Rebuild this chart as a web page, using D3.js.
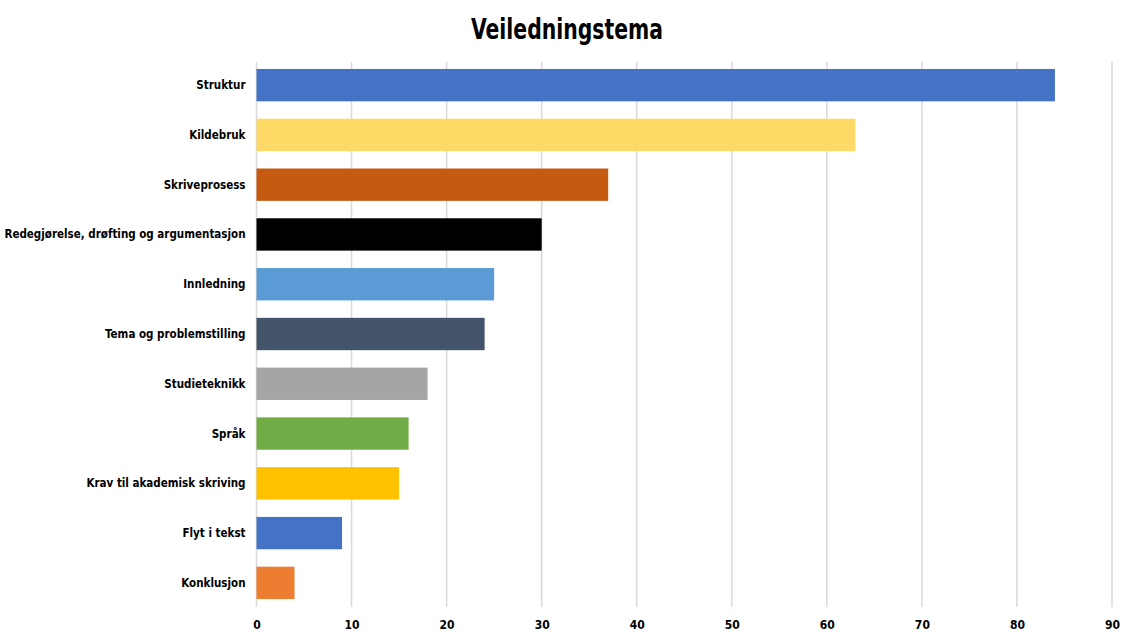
<!DOCTYPE html>
<html>
<head>
<meta charset="utf-8">
<script src="https://cdn.jsdelivr.net/npm/d3@7"></script>
<style>
	body { margin: 0; background: #fff; }
	.chart text { font-family: 'DejaVu Sans', sans-serif; font-stretch: condensed; font-weight: bold; fill: #000; }
	.grid line { stroke: #d9d9d9; stroke-width: 1.5; }
</style>
</head>
<body>
<div class="chart"></div>
<script>
'use strict';

var categories = [
	'Struktur',
	'Kildebruk',
	'Skriveprosess',
	'Redegjørelse, drøfting og argumentasjon',
	'Innledning',
	'Tema og problemstilling',
	'Studieteknikk',
	'Språk',
	'Krav til akademisk skriving',
	'Flyt i tekst',
	'Konklusjon'
];
var values = [84, 63, 37, 30, 25, 24, 18, 16, 15, 9, 4];
var colors = ['#4472C4', '#FFD966', '#C55A11', '#000000', '#5B9BD5', '#44546A',
	'#A5A5A5', '#70AD47', '#FFC000', '#4472C4', '#ED7D31'];
var xTicks = [0, 10, 20, 30, 40, 50, 60, 70, 80, 90];

var svgWidth = 1125;
var svgHeight = 632;
var margin = {top: 60, right: 13, bottom: 23, left: 256.5};
var width = svgWidth - margin.left - margin.right;
var height = svgHeight - margin.top - margin.bottom;

var svg = d3.select('.chart').append('svg')
	.attr('width', svgWidth)
	.attr('height', svgHeight);

// Title
svg.append('text')
	.attr('x', 567)
	.attr('y', 39)
	.attr('text-anchor', 'middle')
	.attr('textLength', 192)
	.attr('lengthAdjust', 'spacingAndGlyphs')
	.style('font-size', '28px')
	.text('Veiledningstema');

var g = svg.append('g')
	.attr('transform', `translate(${margin.left}, ${margin.top})`);

var x = d3.scaleLinear().domain([0, 90]).range([0, 855.5]);
var y = d3.scaleBand().domain(categories).range([0, 548]).paddingInner(0.35).paddingOuter(0.18);

// Vertical gridlines
g.append('g')
	.attr('class', 'grid')
	.selectAll('line')
	.data(xTicks)
	.enter().append('line')
	.attr('x1', d => x(d))
	.attr('x2', d => x(d))
	.attr('y1', 2)
	.attr('y2', 547);

// Bars
g.append('g')
	.selectAll('rect')
	.data(values)
	.enter().append('rect')
	.attr('x', x(0))
	.attr('y', (d, i) => y(categories[i]))
	.attr('width', d => x(d) - x(0))
	.attr('height', y.bandwidth())
	.attr('fill', (d, i) => colors[i]);

// Category labels
g.append('g')
	.selectAll('text')
	.data(categories)
	.enter().append('text')
	.attr('x', -11)
	.attr('y', d => y(d) + y.bandwidth() / 2)
	.attr('dy', '0.35em')
	.attr('text-anchor', 'end')
	.style('font-size', '11.5px')
	.text(d => d);

// X axis labels
var xAxis = d3.axisBottom(x).tickValues(xTicks).tickSize(0).tickPadding(0);
g.append('g')
	.attr('transform', `translate(0, ${height + 12})`)
	.call(xAxis)
	.call(s => s.select('.domain').remove())
	.selectAll('text')
	.style('font-size', '12px')
	.style('font-family', null)
	.attr('dy', '0.7em');
</script>
</body>
</html>
